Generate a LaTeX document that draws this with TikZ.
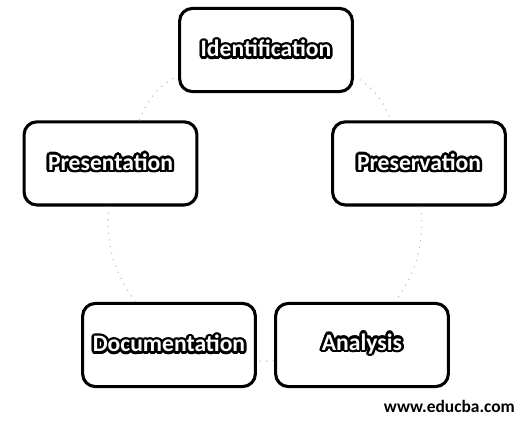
\documentclass[tikz,border=0pt]{standalone}
\usepackage{fontspec}
\usepackage{xcolor,contour}
\usetikzlibrary{graphs}
\newfontfamily\stagefont{Carlito}
\contourlength{1.8pt}
\newcommand{\lbl}[1]{\contour{black}{\textcolor{white}{#1}}}
\tikzset{
	stage/.style={draw, line width=2.2pt, rounded corners=0.32cm, fill=white,
		minimum width=4.32cm, minimum height=2.08cm,
		font=\stagefont\bfseries\fontsize{16.8}{20}\selectfont},
	cycle/.style={draw=black!25, loosely dotted, thick}
}

\begin{document}
\begin{tikzpicture}
				\useasboundingbox (0,0) rectangle (13.15,10.675);
				\graph [no placement, nodes={stage}, edges={cycle}] {
					id/\lbl{Identification}[x=6.65,y=9.425],
					presv/\lbl{Preservation}[x=10.475,y=6.59],
					ana/\lbl{Analysis}[x=9.05,y=2.05],
					doc/\lbl{Documentation}[x=4.225,y=2.05],
					pres/\lbl{Presentation}[x=2.7625,y=6.59],
					id --[bend left=20] presv --[bend left=20] ana --[bend left=10] doc --[bend left=20] pres --[bend left=20] id
				};
			
				\node (web) [anchor=east, inner sep=0pt, font=\stagefont\bfseries\fontsize{12.4}{14}\selectfont] at (12.88,0.52) {www.educba.com};
			\end{tikzpicture}
\end{document}
